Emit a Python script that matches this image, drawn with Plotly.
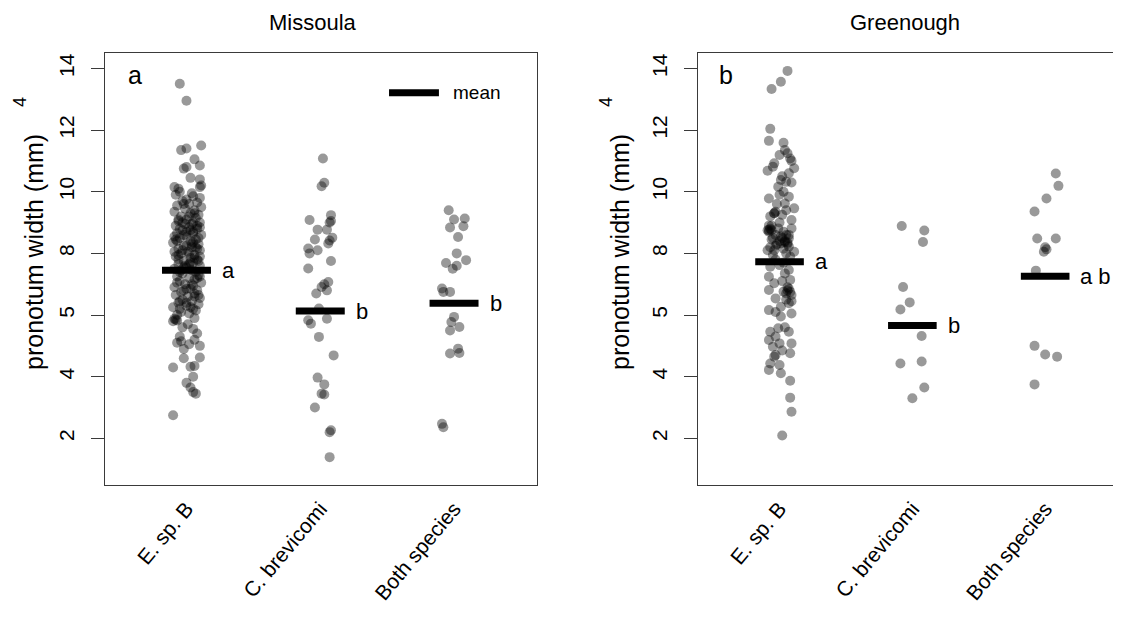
import plotly.graph_objects as go

# ---------------- data ----------------
categories = ["E. sp. B", "C. brevicomi", "Both species"]
panel_titles = ["Missoula", "Greenough"]
panel_tags = ["a", "b"]

ytick_vals = [2, 4, 6, 8, 10, 12, 14]
ytick_text = ["2", "4", "5", "8", "10", "12", "14"]

# Missoula
mis_esp_y = [13.5, 12.95, 11.35, 11.4, 11.5, 11.05, 10.85, 10.8, 10.75, 10.45, 10.4, 10.2, 10.15, 10.1, 10.15,
             5.1, 5.0, 5.05, 5.2, 4.6, 4.62, 4.3, 4.32, 4.35, 4.0, 3.8, 3.65, 3.5, 3.45, 2.75,
             5.4, 5.3, 5.55, 5.6, 5.7, 5.8, 5.85, 5.9, 4.9, 5.15,
             9.9, 9.85, 9.8, 9.7, 9.65, 9.6, 9.55, 9.5, 9.45, 9.4,
             9.35, 9.3, 9.25, 9.2, 9.15, 9.1, 9.05, 9.0, 8.95, 8.9,
             8.85, 8.8, 8.75, 8.7, 8.65, 8.6, 8.55, 8.5, 8.45, 8.4,
             8.35, 8.3, 8.25, 8.2, 8.15, 8.1, 8.05, 8.0, 7.95, 7.9,
             7.85, 7.8, 7.75, 7.7, 7.65, 7.6, 7.55, 7.5, 7.45, 7.4,
             7.35, 7.3, 7.25, 7.2, 7.15, 7.1, 7.05, 7.0, 6.95, 6.9,
             6.85, 6.8, 6.75, 6.7, 6.65, 6.6, 6.55, 6.5, 6.45, 6.4,
             6.35, 6.3, 6.25, 6.2, 6.15, 6.1, 6.05, 6.0,
             9.2, 9.1, 9.0, 8.9, 8.8, 8.7, 8.6, 8.5, 8.4, 8.3, 8.2, 8.1, 8.0, 7.9, 7.8, 7.7, 7.6,
             7.4, 7.2, 7.0, 6.8, 6.6, 6.4, 6.2, 5.88, 5.82,
             9.6, 9.3, 9.0, 8.85, 8.65, 8.45, 8.25, 8.05, 7.85, 7.65, 7.45, 7.25, 7.05, 6.85,
             6.65, 6.45, 6.25, 9.75, 9.95, 10.0, 8.95, 8.75, 8.55, 8.35, 8.15, 7.95, 7.75, 7.55]
mis_esp_jit = [-0.05, 0.0, -0.04, 0.0, 0.11, 0.06, 0.1, 0.0, -0.02, 0.03, 0.1, 0.11, -0.09, -0.06, 0.1,
               -0.07, 0.1, 0.02, 0.06, -0.02, 0.1, -0.1, 0.03, 0.06, 0.05, 0.0, 0.03, 0.05, 0.07, -0.1,
               0.08, -0.05, 0.05, -0.03, 0.01, -0.1, -0.08, 0.06, -0.02, -0.04,
               -0.08, 0.05, 0.1, -0.03, 0.08, 0.02, -0.07, 0.11, -0.01, 0.06,
               -0.09, 0.03, 0.09, -0.04, 0.07, 0.0, -0.06, 0.1, 0.04, -0.08,
               0.02, 0.08, -0.03, 0.05, -0.07, 0.11, 0.0, -0.05, 0.07, 0.03,
               -0.1, 0.09, -0.02, 0.04, -0.06, 0.1, 0.01, -0.04, 0.06, -0.08,
               0.03, 0.08, -0.02, 0.05, -0.06, 0.1, 0.0, -0.09, 0.04, 0.07,
               -0.03, 0.09, -0.07, 0.02, 0.06, -0.05, 0.11, -0.01, 0.05, -0.09,
               0.03, 0.08, -0.04, 0.06, -0.08, 0.01, 0.1, -0.03, 0.04, -0.06,
               0.09, 0.0, -0.1, 0.05, 0.07, -0.04, 0.02, -0.07,
               0.02, -0.06, 0.05, 0.08, -0.05, 0.0, -0.02, 0.09, -0.07, 0.04, 0.07, -0.03, 0.02, 0.1, -0.06, 0.03, -0.01,
               -0.05, 0.08, 0.04, -0.02, 0.06, 0.0, -0.05, -0.09, -0.07,
               -0.02, 0.06, -0.03, 0.1, 0.05, -0.08, 0.0, -0.09, 0.06, 0.02, -0.04, 0.1, -0.07, 0.0,
               0.09, -0.05, 0.03, 0.0, 0.04, -0.05, -0.01, 0.03, -0.09, 0.05, 0.08, -0.06, 0.09, -0.02]

mis_cb_y = [11.08, 10.18, 10.29, 9.08, 9.24, 9.0, 9.05, 8.77, 8.77, 8.45, 8.51, 8.32, 8.42,
            8.16, 8.0, 8.1, 7.75, 7.51, 6.7, 6.91, 7.0, 7.07, 6.8, 6.21, 5.88, 5.83, 5.72,
            5.29, 4.69, 3.97, 3.75, 3.45, 3.42, 3.0, 2.2, 2.26, 1.39]
mis_cb_jit = [0.02, 0.01, 0.03, -0.08, 0.08, 0.07, 0.08, -0.02, 0.05, -0.04, 0.09, 0.06, 0.07,
              -0.09, -0.08, -0.02, 0.08, -0.09, -0.03, 0.01, 0.03, 0.06, 0.05, -0.01, 0.05, -0.09, -0.07,
              -0.01, 0.1, -0.02, 0.03, 0.01, 0.03, -0.04, 0.07, 0.08, 0.07]

mis_both_y = [9.40, 9.1, 9.13, 8.84, 8.88, 8.53, 8.0, 7.78, 7.69, 7.5, 7.6, 6.86, 6.75, 6.75,
              5.94, 5.77, 5.61, 5.5, 4.75, 4.91, 4.77, 2.47, 2.36]
mis_both_jit = [-0.04, 0.0, 0.08, -0.03, 0.07, 0.03, 0.02, 0.09, -0.06, -0.01, 0.02, -0.09, -0.08, -0.03,
                0.0, -0.02, 0.04, -0.03, -0.03, 0.03, 0.04, -0.09, -0.08]

# Greenough
gre_esp_y = [13.92, 13.57, 13.33, 12.04, 11.65, 11.59,
             11.19, 11.08, 11.35, 10.92, 11.0, 11.25,
             10.68, 10.76, 10.81, 10.5, 10.6,
             10.38, 10.32, 10.16, 10.3, 10.0,
             9.78, 9.84, 9.46, 9.6, 9.9,
             9.3, 9.62, 9.08, 9.2, 9.4, 9.25,
             8.76, 8.81, 8.49, 8.81, 8.9, 8.7, 8.6, 8.55, 8.45,
             8.1, 8.1, 8.32, 8.22, 8.05, 8.4, 8.3, 8.2, 8.15, 8.0, 7.95,
             7.57, 7.62, 7.46, 7.7, 7.8, 7.9,
             7.24, 7.14, 7.03, 7.35, 7.1,
             6.81, 6.76, 6.65, 6.9, 6.7,
             6.54, 6.27, 6.38, 6.5, 6.45,
             6.16, 6.05, 5.95, 6.1,
             5.46, 5.57, 5.46, 5.6,
             5.19, 5.08, 5.08, 5.3,
             4.97, 4.7, 4.76, 4.85,
             4.43, 4.22, 4.38, 4.65,
             4.11, 3.87, 3.32, 2.86, 2.09,
             8.8, 8.75, 8.6, 8.5, 8.4, 8.35, 8.25, 8.5, 8.7, 9.0, 9.35,
             8.75, 8.37, 6.8, 9.3, 8.9, 8.3, 8.6, 6.85, 6.75]
gre_esp_jit = [0.06, 0.01, -0.06, -0.07, -0.08, 0.03,
               0.0, 0.08, 0.04, -0.04, 0.09, 0.06,
               -0.09, 0.11, -0.05, 0.02, 0.07,
               0.01, 0.05, -0.01, 0.09, 0.03,
               -0.08, 0.07, 0.11, -0.02, 0.0,
               -0.04, 0.04, 0.09, -0.07, 0.05, 0.02,
               -0.08, -0.01, 0.07, 0.09, -0.06, 0.03, -0.03, 0.01, -0.06,
               -0.09, -0.04, 0.01, 0.07, 0.11, 0.04, -0.02, -0.07, 0.03, 0.05, -0.05,
               -0.07, 0.0, 0.07, 0.03, -0.03, 0.08,
               -0.08, 0.08, -0.04, 0.04, 0.02,
               -0.08, 0.03, 0.09, 0.06, 0.05,
               -0.03, 0.01, 0.07, 0.05, 0.09,
               -0.08, 0.09, 0.01, -0.03,
               -0.07, -0.01, 0.07, 0.04,
               -0.08, 0.0, 0.09, -0.03,
               -0.05, -0.03, 0.08, 0.02,
               -0.07, -0.08, 0.0, -0.04,
               0.01, 0.08, 0.08, 0.09, 0.02,
               -0.07, -0.06, 0.05, 0.02, 0.0, 0.06, -0.03, -0.05, -0.08, 0.0, -0.03,
               -0.09, 0.04, 0.06, -0.04, -0.08, 0.06, 0.07, 0.07, 0.08]

gre_cb_y = [8.89, 8.74, 8.37, 6.91, 6.41, 6.18, 5.32, 4.43, 4.49, 3.65, 3.3]
gre_cb_jit = [-0.08, 0.09, 0.08, -0.07, -0.02, -0.09, 0.07, -0.09, 0.07, 0.09, 0.0]

gre_both_y = [10.59, 10.19, 9.78, 9.36, 8.48, 8.48, 8.2, 8.05, 8.13, 7.44, 5.0, 4.72, 4.65, 3.75]
gre_both_jit = [0.08, 0.1, 0.01, -0.08, -0.06, 0.08, 0.0, -0.01, 0.01, -0.07, -0.08, 0.0, 0.09, -0.08]

mis_means = [7.45, 6.13, 6.38]
gre_means = [7.73, 5.66, 7.26]
mis_letters = ["a", "b", "b"]
gre_letters = ["a", "b", "a b"]

# ---------------- figure ----------------
PAGE_MARGIN = 8          # default <body> margin of the html page
W, H = 1121 - PAGE_MARGIN, 619 - PAGE_MARGIN
FONT = "Liberation Sans, Arial, sans-serif"
PT_COLOR = "rgba(0,0,0,0.40)"
LINE_COLOR = "#3a3a3a"
HALF = 0.183


def px(x):
    return (x - PAGE_MARGIN) / W


def py(y):
    return 1 - (y - PAGE_MARGIN) / H


fig = go.Figure()

panels = [
    ("x", "y", [mis_esp_y, mis_cb_y, mis_both_y], [mis_esp_jit, mis_cb_jit, mis_both_jit], mis_means, mis_letters),
    ("x2", "y2", [gre_esp_y, gre_cb_y, gre_both_y], [gre_esp_jit, gre_cb_jit, gre_both_jit], gre_means, gre_letters),
]

annotations = []
for xa, ya, ys, jits, means, letters in panels:
    for i, (yv, jv) in enumerate(zip(ys, jits)):
        fig.add_trace(go.Scatter(
            x=[i + 1 + j for j in jv], y=yv, mode="markers",
            marker=dict(size=10, color=PT_COLOR, line=dict(width=0)),
            xaxis=xa, yaxis=ya, showlegend=False, hoverinfo="skip"))
    for i, m in enumerate(means):
        fig.add_trace(go.Scatter(
            x=[i + 1 - HALF, i + 1 + HALF], y=[m, m], mode="lines",
            line=dict(color="black", width=7), xaxis=xa, yaxis=ya,
            showlegend=False, hoverinfo="skip"))
        annotations.append(dict(
            x=i + 1 + HALF, y=m, xref=xa, yref=ya, text=letters[i],
            showarrow=False, xanchor="left", yanchor="middle", xshift=9,
            font=dict(family=FONT, size=22, color="black")))

# legend for mean (panel 1)
fig.add_trace(go.Scatter(x=[2.514, 2.887], y=[13.21, 13.21], mode="lines",
                         line=dict(color="black", width=7), xaxis="x", yaxis="y",
                         showlegend=False, hoverinfo="skip"))
annotations.append(dict(x=2.98, y=13.21, xref="x", yref="y", text="mean", showarrow=False,
                        xanchor="left", yanchor="middle",
                        font=dict(family=FONT, size=19, color="black")))


def label(x, y, text, size, angle=0):
    return dict(x=px(x), y=py(y), xref="paper", yref="paper", text=text, textangle=angle,
                showarrow=False, xanchor="center", yanchor="middle",
                font=dict(family=FONT, size=size, color="black"))


# panel tags
annotations.append(label(135, 75, panel_tags[0], 25))
annotations.append(label(726, 75, panel_tags[1], 25))
# titles
annotations.append(label(313, 22, panel_titles[0], 22))
annotations.append(label(905, 22, panel_titles[1], 22))
# y-axis titles
for cx, sx in [(34, 20), (620, 606)]:
    annotations.append(label(cx, 252, "pronotum width (mm)", 25, -90))
    annotations.append(label(sx, 102, "4", 18, -90))

ydom = [py(485), py(52.7)]
common_y = dict(range=[0.486, 14.51], tickvals=ytick_vals, ticktext=ytick_text,
                tickangle=-90, ticks="outside", ticklen=13, tickcolor=LINE_COLOR, tickwidth=1.2,
                tickfont=dict(family=FONT, size=21, color="black"),
                showgrid=False, zeroline=False, showline=True, linecolor=LINE_COLOR, linewidth=1.3,
                domain=ydom, ticklabelstandoff=8)
common_x = dict(tickvals=[1, 2, 3], ticktext=categories, tickangle=-50, ticks="",
                tickfont=dict(family=FONT, size=21, color="black"),
                showgrid=False, zeroline=False, showline=True, mirror=True,
                linecolor=LINE_COLOR, linewidth=1.3, ticklabelstandoff=2)

fig.update_layout(
    width=W, height=H, margin=dict(l=0, r=0, t=0, b=0),
    paper_bgcolor="white", plot_bgcolor="white",
    xaxis=dict(common_x, domain=[px(105), px(537)], range=[0.391, 3.62], anchor="y"),
    yaxis=dict(common_y, mirror=True, anchor="x"),
    xaxis2=dict(common_x, domain=[px(698), 1.0], range=[0.386, 3.571], anchor="y2"),
    yaxis2=dict(common_y, mirror=False, anchor="x2"),
    annotations=annotations,
    showlegend=False,
)

fig.write_html("out.html")
